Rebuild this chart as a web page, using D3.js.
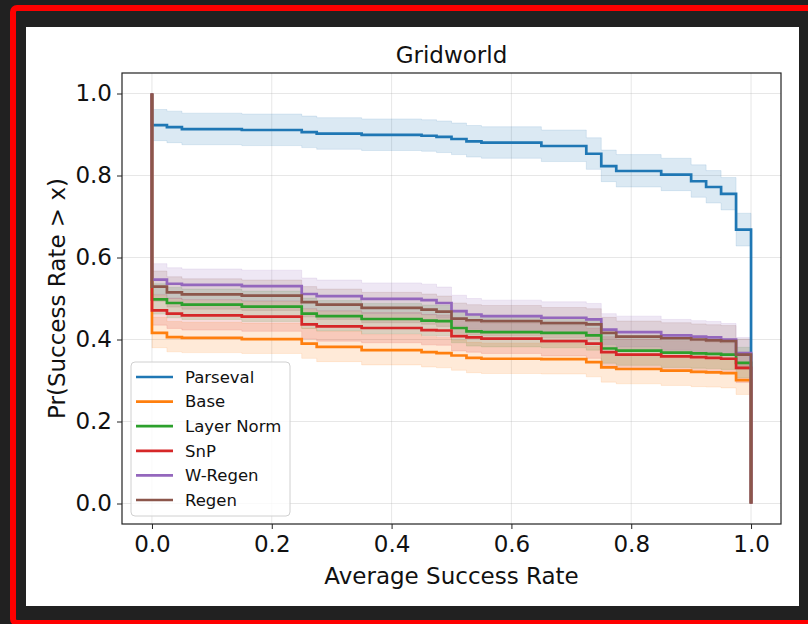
<!DOCTYPE html>
<html>
<head>
<meta charset="utf-8">
<script src="https://cdn.jsdelivr.net/npm/d3@7"></script>
<style>
  html, body { margin: 0; padding: 0; background: #212121; }
  svg { display: block; font-family: "DejaVu Sans", sans-serif; }
</style>
</head>
<body>
<div id="chart"></div>
<script>
// breakpoints (x) where the step curves change value
const steps = [0, 0.025, 0.05, 0.15, 0.25, 0.275, 0.35, 0.45, 0.475, 0.5, 0.525,
  0.55, 0.65, 0.725, 0.75, 0.775, 0.85, 0.9, 0.925, 0.95, 0.975];

const names = ['Parseval', 'Base', 'Layer Norm', 'SnP', 'W-Regen', 'Regen'];
const colors = ['#1f77b4', '#ff7f0e', '#2ca02c', '#d62728', '#9467bd', '#8c564b'];

const parseval = [0.923, 0.918, 0.913, 0.911, 0.906, 0.902, 0.899, 0.897, 0.894, 0.889, 0.883,
  0.880, 0.872, 0.853, 0.823, 0.811, 0.802, 0.786, 0.772, 0.755, 0.668];
const parsevalHi = [0.961, 0.957, 0.952, 0.950, 0.945, 0.941, 0.938, 0.936, 0.933, 0.928, 0.922,
  0.919, 0.911, 0.892, 0.862, 0.851, 0.842, 0.826, 0.812, 0.795, 0.708];
const parsevalLo = [0.885, 0.880, 0.875, 0.873, 0.868, 0.864, 0.861, 0.859, 0.856, 0.851, 0.845,
  0.842, 0.834, 0.815, 0.785, 0.772, 0.763, 0.747, 0.733, 0.716, 0.628];

const base = [0.416, 0.406, 0.404, 0.401, 0.390, 0.382, 0.374, 0.369, 0.367, 0.361, 0.355,
  0.353, 0.352, 0.345, 0.332, 0.328, 0.324, 0.321, 0.320, 0.318, 0.301];
const baseHi = [0.454, 0.444, 0.442, 0.440, 0.428, 0.420, 0.412, 0.407, 0.405, 0.399, 0.393,
  0.391, 0.390, 0.383, 0.370, 0.366, 0.362, 0.359, 0.358, 0.356, 0.339];
const baseLo = [0.380, 0.370, 0.368, 0.366, 0.354, 0.346, 0.338, 0.333, 0.331, 0.325, 0.319,
  0.317, 0.316, 0.309, 0.296, 0.292, 0.288, 0.285, 0.284, 0.282, 0.266];

const layerNorm = [0.498, 0.489, 0.485, 0.480, 0.463, 0.457, 0.450, 0.446, 0.445, 0.428, 0.420,
  0.418, 0.416, 0.410, 0.378, 0.373, 0.368, 0.366, 0.365, 0.363, 0.343];
const layerNormHi = [0.536, 0.527, 0.523, 0.518, 0.501, 0.495, 0.488, 0.484, 0.483, 0.466, 0.458,
  0.456, 0.454, 0.448, 0.416, 0.411, 0.406, 0.404, 0.403, 0.401, 0.381];
const layerNormLo = [0.462, 0.453, 0.449, 0.444, 0.427, 0.421, 0.414, 0.410, 0.409, 0.392, 0.384,
  0.382, 0.380, 0.374, 0.342, 0.337, 0.332, 0.330, 0.329, 0.327, 0.307];

const snp = [0.471, 0.463, 0.459, 0.456, 0.437, 0.432, 0.428, 0.423, 0.422, 0.408, 0.405,
  0.402, 0.396, 0.390, 0.369, 0.363, 0.359, 0.357, 0.355, 0.353, 0.331];
const snpHi = [0.509, 0.501, 0.497, 0.494, 0.475, 0.470, 0.466, 0.461, 0.460, 0.446, 0.443,
  0.440, 0.434, 0.428, 0.407, 0.401, 0.397, 0.395, 0.393, 0.391, 0.369];
const snpLo = [0.435, 0.427, 0.423, 0.420, 0.401, 0.396, 0.392, 0.387, 0.386, 0.372, 0.369,
  0.366, 0.360, 0.354, 0.333, 0.327, 0.323, 0.321, 0.319, 0.317, 0.295];

const wRegen = [0.546, 0.536, 0.533, 0.530, 0.511, 0.506, 0.499, 0.496, 0.489, 0.469, 0.461,
  0.457, 0.453, 0.449, 0.424, 0.418, 0.410, 0.407, 0.405, 0.400, 0.367];
const wRegenHi = [0.585, 0.575, 0.572, 0.569, 0.550, 0.545, 0.538, 0.535, 0.528, 0.508, 0.500,
  0.496, 0.492, 0.488, 0.463, 0.457, 0.449, 0.446, 0.444, 0.439, 0.405];
const wRegenLo = [0.510, 0.500, 0.497, 0.494, 0.475, 0.470, 0.463, 0.460, 0.453, 0.433, 0.425,
  0.421, 0.417, 0.413, 0.388, 0.382, 0.374, 0.371, 0.369, 0.364, 0.331];

const regen = [0.529, 0.515, 0.510, 0.507, 0.491, 0.485, 0.477, 0.473, 0.468, 0.451, 0.447,
  0.445, 0.440, 0.437, 0.416, 0.407, 0.403, 0.400, 0.398, 0.396, 0.363];
const regenHi = [0.567, 0.553, 0.548, 0.545, 0.529, 0.523, 0.515, 0.511, 0.506, 0.489, 0.485,
  0.483, 0.478, 0.475, 0.454, 0.445, 0.441, 0.438, 0.436, 0.434, 0.401];
const regenLo = [0.493, 0.479, 0.474, 0.471, 0.455, 0.449, 0.441, 0.437, 0.432, 0.415, 0.411,
  0.409, 0.404, 0.401, 0.380, 0.371, 0.367, 0.364, 0.362, 0.360, 0.327];

const xTicks = [0, 0.2, 0.4, 0.6, 0.8, 1.0];
const yTicks = [0, 0.2, 0.4, 0.6, 0.8, 1.0];

const series = [
  { name: names[0], color: colors[0], v: parseval, hi: parsevalHi, lo: parsevalLo },
  { name: names[1], color: colors[1], v: base, hi: baseHi, lo: baseLo },
  { name: names[2], color: colors[2], v: layerNorm, hi: layerNormHi, lo: layerNormLo },
  { name: names[3], color: colors[3], v: snp, hi: snpHi, lo: snpLo },
  { name: names[4], color: colors[4], v: wRegen, hi: wRegenHi, lo: wRegenLo },
  { name: names[5], color: colors[5], v: regen, hi: regenHi, lo: regenLo }
];

const W = 808, H = 624;
const margin = { top: 73, right: 27, bottom: 100, left: 122 };
const w = W - margin.left - margin.right;
const h = 524 - margin.top;
const FS = 23;

const svg = d3.select('#chart').append('svg').attr('width', W).attr('height', H);

// dark frame with red outline, white figure panel
svg.append('rect').attr('x', 13).attr('y', 8).attr('width', 810).attr('height', 615)
  .attr('rx', 4).attr('fill', 'none').attr('stroke', '#ff0000').attr('stroke-width', 6);
svg.append('rect').attr('x', 26).attr('y', 27).attr('width', 773).attr('height', 579)
  .attr('fill', '#ffffff');

const g = svg.append('g').attr('transform', `translate(${margin.left},${margin.top})`);

const x = d3.scaleLinear().domain([-0.05, 1.05]).range([0, w]);
const y = d3.scaleLinear().domain([-0.05, 1.05]).range([h, 0]);

// grid
g.append('g').selectAll('line').data(xTicks).join('line')
  .attr('x1', d => x(d)).attr('x2', d => x(d)).attr('y1', 0).attr('y2', h)
  .attr('stroke', '#b0b0b0').attr('stroke-opacity', 0.3).attr('stroke-width', 1);
g.append('g').selectAll('line').data(yTicks).join('line')
  .attr('y1', d => y(d)).attr('y2', d => y(d)).attr('x1', 0).attr('x2', w)
  .attr('stroke', '#b0b0b0').attr('stroke-opacity', 0.3).attr('stroke-width', 1);

const area = d3.area()
  .x(d => x(d.x)).y0(d => y(d.lo)).y1(d => y(d.hi))
  .curve(d3.curveStepAfter);
const line = d3.line()
  .x(d => x(d.x)).y(d => y(d.y))
  .curve(d3.curveStepAfter);

function bandData(s) {
  const pts = steps.map((sx, i) => ({ x: sx, lo: s.lo[i], hi: s.hi[i] }));
  const last = pts[pts.length - 1];
  pts.push({ x: 1.0, lo: last.lo, hi: last.hi });
  return pts;
}
function lineData(s) {
  const pts = [{ x: 0, y: 1.0 }];
  steps.forEach((sx, i) => pts.push({ x: sx, y: s.v[i] }));
  pts.push({ x: 1.0, y: 0 });
  return pts;
}

// confidence bands
g.selectAll('.band').data(series).join('path')
  .attr('class', 'band')
  .attr('d', d => area(bandData(d)))
  .attr('fill', d => d.color).attr('fill-opacity', 0.16)
  .attr('stroke', d => d.color).attr('stroke-opacity', 0.12).attr('stroke-width', 1);

// step lines
g.selectAll('.curve').data(series).join('path')
  .attr('class', 'curve')
  .attr('d', d => line(lineData(d)))
  .attr('fill', 'none').attr('stroke', d => d.color)
  .attr('stroke-width', 2.7).attr('stroke-linejoin', 'miter');

// axes
const xAxis = g.append('g').attr('transform', `translate(0,${h})`)
  .call(d3.axisBottom(x).tickValues(xTicks).tickFormat(d3.format('.1f')).tickSizeOuter(0).tickSize(5).tickPadding(5));
const yAxis = g.append('g')
  .call(d3.axisLeft(y).tickValues(yTicks).tickFormat(d3.format('.1f')).tickSizeOuter(0).tickSize(5).tickPadding(5));
[xAxis, yAxis].forEach(a => {
  a.select('.domain').remove();
  a.selectAll('text').attr('font-size', FS).attr('fill', '#111').attr('font-family', '"DejaVu Sans", sans-serif');
  a.selectAll('line').attr('stroke', '#222');
});
xAxis.selectAll('text').attr('dy', '0.8em');

// spines
g.append('rect').attr('x', 0).attr('y', 0).attr('width', w).attr('height', h)
  .attr('fill', 'none').attr('stroke', '#222').attr('stroke-width', 1.2);

// title and labels
svg.append('text').attr('x', margin.left + w / 2).attr('y', 63)
  .attr('text-anchor', 'middle').attr('font-size', FS).attr('fill', '#111').text('Gridworld');
svg.append('text').attr('x', margin.left + w / 2).attr('y', 584)
  .attr('text-anchor', 'middle').attr('font-size', FS).attr('fill', '#111').text('Average Success Rate');
svg.append('text').attr('transform', `translate(65,${margin.top + h / 2}) rotate(-90)`)
  .attr('text-anchor', 'middle').attr('font-size', FS).attr('fill', '#111').text('Pr(Success Rate > x)');

// legend
const lg = svg.append('g').attr('transform', 'translate(131,362)');
lg.append('rect').attr('width', 159).attr('height', 154).attr('rx', 4)
  .attr('fill', '#ffffff').attr('fill-opacity', 0.8).attr('stroke', '#d0d0d0');
const items = lg.selectAll('.item').data(series).join('g')
  .attr('class', 'item')
  .attr('transform', (d, i) => `translate(0,${15 + i * 24.6})`);
items.append('line').attr('x1', 5).attr('x2', 42).attr('y1', 0).attr('y2', 0)
  .attr('stroke', d => d.color).attr('stroke-width', 2.7);
items.append('text').attr('x', 54).attr('y', 0).attr('dy', '0.35em')
  .attr('font-size', 16.5).attr('fill', '#111').text(d => d.name);
</script>
</body>
</html>
